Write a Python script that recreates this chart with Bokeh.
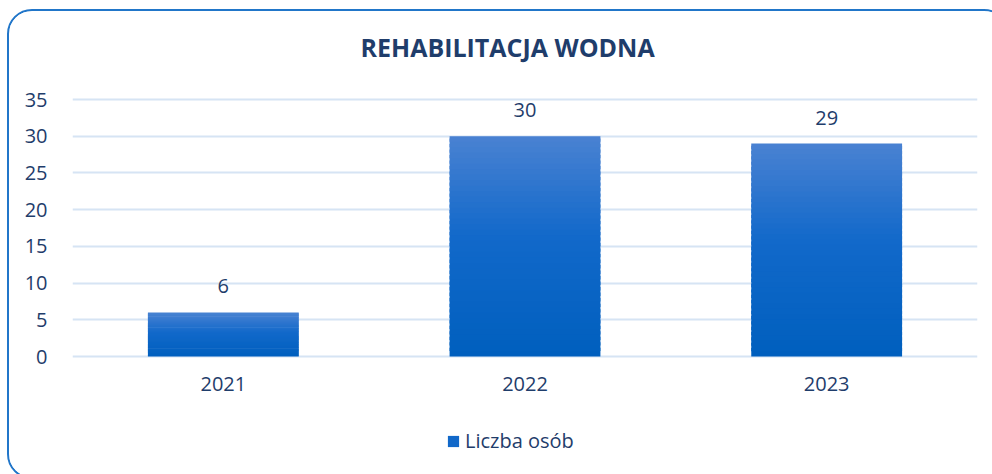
import numpy as np
from bokeh.plotting import figure
from bokeh.models import ColumnDataSource, LabelSet, Legend, LegendItem, Range1d
from bokeh.core.properties import value
from bokeh.embed import file_html
from bokeh.resources import INLINE

# ---- data ----
years = ["2021", "2022", "2023"]
counts = [6, 30, 29]
y_ticks = [0, 5, 10, 15, 20, 25, 30, 35]
series_name = "Liczba osób"
chart_title = "REHABILITACJA WODNA"

# ---- style ----
NAVY = "#1F3D6B"
GRID = "#D6E4F4"
FONT = "Open Sans"
# gradient stops (t=0 bottom, t=1 top)
stops_t = [0.0, 0.55, 1.0]
stops_c = [(0x00, 0x5F, 0xBE), (0x12, 0x69, 0xCA), (0x4A, 0x82, 0xD2)]
N = 40

# layout (pixels)
PLOT_H = 257          # height of the 0..35 band
ABOVE_H = 20          # extra frame space above 35
BELOW_H = 114         # extra frame space under 0 for axis labels + legend
Y_MAX = 35
px_per_unit = PLOT_H / Y_MAX
y_lo = -BELOW_H / px_per_unit
y_hi = Y_MAX + ABOVE_H / px_per_unit


def grad_color(t):
    r = [np.interp(t, stops_t, [c[k] for c in stops_c]) for k in range(3)]
    return "#%02x%02x%02x" % tuple(int(round(v)) for v in r)


xs, bottoms, tops, colors = [], [], [], []
for yr, v in zip(years, counts):
    for i in range(N):
        xs.append(yr)
        bottoms.append(v * i / N)
        tops.append(min(v * (i + 1.6) / N, v))
        colors.append(grad_color((i + 0.5) / N))
bar_src = ColumnDataSource(dict(x=xs, bottom=bottoms, top=tops, color=colors))
lab_src = ColumnDataSource(dict(x=years, y=counts, text=[str(c) for c in counts]))

p = figure(
    x_range=years,
    y_range=Range1d(y_lo, y_hi),
    frame_width=905,
    frame_height=ABOVE_H + PLOT_H + BELOW_H,
    output_backend="svg",
    toolbar_location=None,
    min_border_left=63,
    min_border_right=30,
    min_border_top=68,
    min_border_bottom=7,
    title=chart_title,
)
p.styles = {"border": "2px solid #2176C9", "border-radius": "25px", "overflow": "hidden",
            "margin-left": "7px", "margin-top": "9px"}
p.outline_line_color = None

r = p.vbar(x="x", bottom="bottom", top="top", width=0.5, source=bar_src,
           fill_color="color", line_color=None)

labels = LabelSet(x="x", y="y", text="text", source=lab_src, text_align="center",
                  text_baseline="bottom", y_offset=19, text_font_size="20px",
                  text_color=NAVY, text_font=value(FONT))
p.add_layout(labels)

p.title.text_font = FONT
p.title.text_font_size = "25px"
p.title.text_font_style = "bold"
p.title.text_color = NAVY
p.title.align = "left"
p.title.offset = 288
p.title.standoff = 32

p.xgrid.grid_line_color = None
p.ygrid.grid_line_color = GRID
p.ygrid.grid_line_width = 2
p.yaxis.ticker = y_ticks
p.xaxis.fixed_location = 0

for ax in (p.xaxis, p.yaxis):
    ax.axis_line_color = None
    ax.major_tick_line_color = None
    ax.minor_tick_line_color = None
    ax.major_label_text_font = FONT
    ax.major_label_text_font_size = "20px"
    ax.major_label_text_color = NAVY
p.yaxis.major_label_standoff = 19
p.xaxis.major_label_standoff = 14

legend = Legend(items=[LegendItem(label=series_name, renderers=[r], index=N // 2)],
                orientation="horizontal", location=(374, 16),
                label_text_font=FONT, label_text_font_size="20px",
                label_text_color=NAVY, glyph_width=14, glyph_height=14,
                border_line_color=None, background_fill_alpha=0,
                margin=0, padding=0, label_standoff=5)
p.add_layout(legend, "center")

open("out.html", "w").write(file_html(p, INLINE))
